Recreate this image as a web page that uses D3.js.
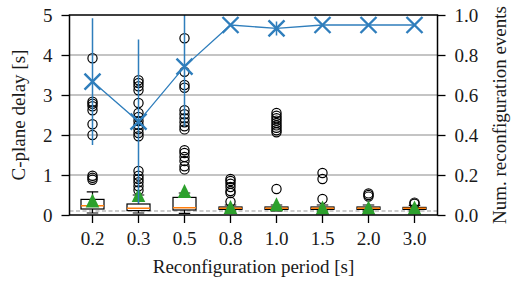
<!DOCTYPE html>
<html><head><meta charset="utf-8">
<script src="https://cdn.jsdelivr.net/npm/d3@7"></script>
<style>body{margin:0;background:#fff}svg{display:block}
svg text{font-family:"Liberation Serif","Times New Roman",Times,serif !important;}</style>
</head><body>
<script>
const categories = ["0.2","0.3","0.5","0.8","1.0","1.5","2.0","3.0"];
const q1 = [0.15,0.11,0.125,0.14,0.14,0.14,0.14,0.14];
const medians = [0.23,0.17,0.18,0.17,0.17,0.17,0.17,0.17];
const q3 = [0.39,0.275,0.44,0.2,0.2,0.2,0.2,0.19];
const whiskerLow = [0.05,0.05,0.04,0.1,0.1,0.1,0.1,0.1];
const whiskerHigh = [0.58,0.5,0.55,0.25,0.25,0.25,0.25,0.24];
const means = [0.36,0.5,0.6,0.2,0.27,0.19,0.19,0.19];
const fliers = [
  [3.92,2.83,2.78,2.72,2.62,2.27,2.0,0.98,0.93,0.88],
  [3.37,3.3,3.22,3.12,2.8,2.55,2.45,2.35,2.25,2.15,2.05,1.97,1.1,0.98,0.9,0.82,0.72,0.62],
  [4.42,3.58,3.25,3.18,2.62,2.52,2.42,2.32,2.22,2.14,1.62,1.55,1.45,1.35,1.22,1.14],
  [0.9,0.85,0.78,0.7,0.6,0.55,0.33],
  [2.55,2.48,2.42,2.36,2.3,2.24,2.18,2.12,2.07,0.65],
  [1.05,0.9,0.4],
  [0.54,0.5,0.46],
  [0.31,0.28]
];
const eventsMean = [0.667,0.467,0.742,0.95,0.933,0.95,0.95,0.95];
const eventsErr = [0.317,0.41,0.30,0,0.035,0,0,0];
const leftTicks = [0,1,2,3,4,5];
const rightTicks = [0,0.2,0.4,0.6,0.8,1.0];
const refLine = 0.1;

const W=518,H=284, L=69.5, R=437.5, T=15, B=215;
const svg=d3.select("body").append("svg").attr("width",W).attr("height",H);
const font="Liberation Serif, Times New Roman, serif", fs=19, tc="#1a1a1a";

const x=d3.scaleBand().domain(categories).range([L,R]);
const y=d3.scaleLinear().domain([0,5]).range([B,T]);
const y2=d3.scaleLinear().domain([0,1]).range([B,T]);
const cx=c=>x(c)+x.bandwidth()/2;
const bw=23;

svg.append("defs").append("clipPath").attr("id","clip").append("rect")
  .attr("x",L).attr("y",T).attr("width",R-L).attr("height",B-T);

svg.append("g").selectAll("line").data(leftTicks.filter(t=>t>0&&t<5)).join("line")
  .attr("x1",L).attr("x2",R).attr("y1",d=>y(d)).attr("y2",d=>y(d))
  .attr("stroke","#b0b0b0").attr("stroke-width",1.6);
svg.append("line").attr("x1",L).attr("x2",R).attr("y1",y(refLine)).attr("y2",y(refLine))
  .attr("stroke","#999").attr("stroke-width",1.2).attr("stroke-dasharray","4,2.5");

const g=svg.append("g").attr("clip-path","url(#clip)");
categories.forEach((c,i)=>{
  const X=cx(c);
  const b=g.append("g");
  b.append("line").attr("x1",X).attr("x2",X).attr("y1",y(whiskerLow[i])).attr("y2",y(q1[i])).attr("stroke","#000").attr("stroke-width",1.2);
  b.append("line").attr("x1",X).attr("x2",X).attr("y1",y(q3[i])).attr("y2",y(whiskerHigh[i])).attr("stroke","#000").attr("stroke-width",1.2);
  [whiskerLow[i],whiskerHigh[i]].forEach(v=>b.append("line").attr("x1",X-bw/4).attr("x2",X+bw/4).attr("y1",y(v)).attr("y2",y(v)).attr("stroke","#000").attr("stroke-width",1.2));
  b.append("rect").attr("x",X-bw/2).attr("y",y(q3[i])).attr("width",bw).attr("height",y(q1[i])-y(q3[i]))
    .attr("fill","#fff").attr("stroke","#000").attr("stroke-width",1.2);
  b.append("line").attr("x1",X-bw/2).attr("x2",X+bw/2).attr("y1",y(medians[i])).attr("y2",y(medians[i])).attr("stroke","#ff7f0e").attr("stroke-width",1.5);
  b.selectAll("circle").data(fliers[i]).join("circle").attr("cx",X).attr("cy",d=>y(d)).attr("r",4.6)
    .attr("fill","none").attr("stroke","#000").attr("stroke-width",1.2);
});
g.selectAll("path.mean").data(categories).join("path").attr("class","mean")
  .attr("d",(c,i)=>{const X=cx(c),Y=y(means[i]);return `M${X},${Y-7}L${X+6.8},${Y+7}L${X-6.8},${Y+7}Z`;})
  .attr("fill","#2ca02c");

const blue="#2f7ebc";
g.selectAll("line.err").data(categories).join("line").attr("class","err")
  .attr("x1",c=>cx(c)).attr("x2",c=>cx(c))
  .attr("y1",(c,i)=>y2(eventsMean[i]-eventsErr[i])).attr("y2",(c,i)=>y2(eventsMean[i]+eventsErr[i]))
  .attr("stroke",blue).attr("stroke-width",1.5);
g.append("path").datum(categories).attr("fill","none").attr("stroke",blue).attr("stroke-width",1.3)
  .attr("d",d3.line().x(c=>cx(c)).y((c,i)=>y2(eventsMean[i])));
const ms=8;
categories.forEach((c,i)=>{
  const X=cx(c),Y=y2(eventsMean[i]);
  g.append("path").attr("d",`M${X-ms},${Y-ms}L${X+ms},${Y+ms}M${X-ms},${Y+ms}L${X+ms},${Y-ms}`)
    .attr("stroke",blue).attr("stroke-width",2.4).attr("fill","none");
});

svg.append("rect").attr("x",L).attr("y",T).attr("width",R-L).attr("height",B-T)
  .attr("fill","none").attr("stroke","#000").attr("stroke-width",1.5);

const tk=8;
const ax=svg.append("g").attr("transform",`translate(0,${B})`).call(d3.axisBottom(x).tickSize(tk).tickPadding(9));
const ayl=svg.append("g").attr("transform",`translate(${L},0)`).call(d3.axisLeft(y).tickValues(leftTicks).tickFormat(d3.format("d")).tickSize(tk).tickPadding(9));
const ayr=svg.append("g").attr("transform",`translate(${R},0)`).call(d3.axisRight(y2).tickValues(rightTicks).tickFormat(d3.format(".1f")).tickSize(tk).tickPadding(9));
[ax,ayl,ayr].forEach(a=>{
  a.attr("font-family",font);
  a.select(".domain").remove();
  a.selectAll(".tick line").attr("stroke","#000").attr("stroke-width",1.3);
  a.selectAll("text").attr("font-size",fs).attr("fill",tc);
});

svg.append("text").attr("x",(L+R)/2).attr("y",273).attr("text-anchor","middle")
  .attr("font-size",fs).attr("fill",tc).text("Reconfiguration period [s]");
svg.append("text").attr("transform",`translate(25,${(T+B)/2}) rotate(-90)`).attr("text-anchor","middle")
  .attr("font-size",fs).attr("fill",tc).text("C-plane delay [s]");
svg.append("text").attr("transform",`translate(506,${(T+B)/2}) rotate(-90)`).attr("text-anchor","middle")
  .attr("font-size",fs).attr("fill",tc).text("Num. reconfiguration events");
</script>
</body></html>
